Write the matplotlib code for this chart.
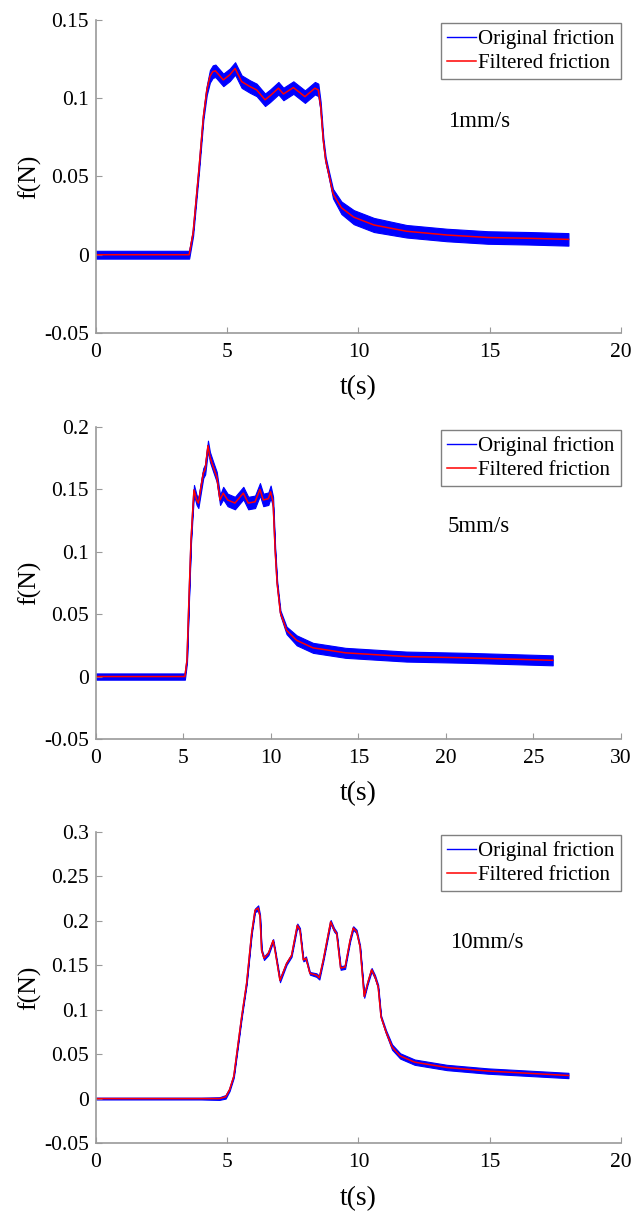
import matplotlib
matplotlib.use('Agg')
import matplotlib.pyplot as plt
import numpy as np
from matplotlib.ticker import FuncFormatter

plt.rcParams['font.family'] = ['Liberation Serif', 'DejaVu Serif']

# 1 mm/s : time (s), filtered friction (N), half width of the raw noise band (N)
t1 = [0, 1, 2, 3, 3.55, 3.7, 3.93, 4.09, 4.22, 4.34, 4.45, 4.55, 4.85, 5.1, 5.3, 5.55,
      5.87, 6.12, 6.44, 6.63, 6.95, 7.14, 7.52, 7.96, 8.34, 8.47, 8.56, 8.66, 8.75, 8.85,
      9.03, 9.35, 9.82, 10.59, 11.83, 13.37, 14.93, 16.5, 18.0]
f1 = [0, 0, 0, 0, 0, 0.014, 0.056, 0.088, 0.105, 0.114, 0.117, 0.1175, 0.1117, 0.115,
      0.119, 0.1106, 0.1074, 0.1053, 0.099, 0.1015, 0.1064, 0.1027, 0.1068, 0.101, 0.1064,
      0.1053, 0.0946, 0.073, 0.0605, 0.053, 0.039, 0.030, 0.024, 0.019, 0.015, 0.0126,
      0.011, 0.0105, 0.0098]
w1 = [0.0025, 0.0025, 0.0025, 0.0025, 0.0025, 0.002, 0.002, 0.002, 0.003, 0.004, 0.004,
      0.004, 0.004, 0.004, 0.004, 0.004, 0.004, 0.004, 0.004, 0.004, 0.004, 0.004, 0.004,
      0.004, 0.004, 0.004, 0.003, 0.002, 0.002, 0.002, 0.003, 0.004, 0.0045, 0.0045, 0.004,
      0.004, 0.004, 0.004, 0.004]

# 5 mm/s
t2 = [0, 2, 4, 5.08, 5.2, 5.31, 5.43, 5.54, 5.6, 5.75, 5.85, 6.13, 6.24, 6.4, 6.51, 6.7,
      6.9, 7.09, 7.27, 7.52, 7.94, 8.42, 8.7, 9.09, 9.37, 9.56, 9.85, 9.98, 10.12, 10.24,
      10.35, 10.54, 10.89, 11.47, 12.4, 14.26, 17.74, 21.2, 26.1]
f2 = [0, 0, 0, 0, 0.013, 0.061, 0.109, 0.136, 0.1495, 0.1415, 0.139, 0.163, 0.166, 0.185,
      0.176, 0.168, 0.160, 0.1415, 0.147, 0.1415, 0.139, 0.147, 0.139, 0.140, 0.150, 0.1415,
      0.1425, 0.148, 0.140, 0.101, 0.075, 0.051, 0.037, 0.029, 0.023, 0.019, 0.016, 0.015,
      0.013]
w2 = [0.0025, 0.0025, 0.0025, 0.0025, 0.002, 0.002, 0.002, 0.003, 0.004, 0.004, 0.004,
      0.004, 0.004, 0.004, 0.004, 0.004, 0.004, 0.004, 0.005, 0.005, 0.005, 0.005, 0.005,
      0.005, 0.005, 0.005, 0.005, 0.005, 0.004, 0.002, 0.002, 0.002, 0.003, 0.004, 0.004,
      0.004, 0.004, 0.004, 0.004]

# 10 mm/s
t3 = [0, 2, 4, 4.7, 4.94, 5.09, 5.25, 5.55, 5.74, 5.93, 6.06, 6.18, 6.25, 6.31, 6.4, 6.57,
      6.75, 6.82, 7.01, 7.26, 7.45, 7.67, 7.77, 7.9, 8.0, 8.15, 8.4, 8.51, 8.66, 8.94, 9.07,
      9.17, 9.32, 9.49, 9.68, 9.8, 9.93, 10.06, 10.22, 10.35, 10.5, 10.63, 10.75, 10.86,
      11.05, 11.28, 11.59, 12.14, 13.37, 14.93, 16.47, 18.0]
f3 = [0, 0, 0, 0, 0.002, 0.01, 0.025, 0.092, 0.130, 0.186, 0.212, 0.2145, 0.205, 0.167,
      0.158, 0.1635, 0.178, 0.167, 0.133, 0.152, 0.161, 0.195, 0.19, 0.156, 0.158, 0.141,
      0.139, 0.136, 0.156, 0.199, 0.19, 0.186, 0.147, 0.148, 0.178, 0.192, 0.188, 0.171,
      0.115, 0.130, 0.145, 0.137, 0.126, 0.092, 0.075, 0.058, 0.048, 0.041, 0.035, 0.031,
      0.0285, 0.026]
w3 = [0.001, 0.001, 0.001, 0.0015, 0.002, 0.0015, 0.0015, 0.0015, 0.0015, 0.0015, 0.002,
      0.003, 0.002, 0.0015, 0.002, 0.002, 0.0015, 0.0015, 0.002, 0.0015, 0.0015, 0.002,
      0.002, 0.0015, 0.002, 0.0015, 0.002, 0.002, 0.0015, 0.002, 0.002, 0.0015, 0.002,
      0.002, 0.0015, 0.002, 0.002, 0.0015, 0.0015, 0.0015, 0.002, 0.002, 0.002, 0.0015,
      0.002, 0.003, 0.003, 0.003, 0.003, 0.003, 0.003, 0.003]

panels = [
    dict(t=t1, f=f1, w=w1, xlim=(0, 20), ylim=(-0.05, 0.15), ystep=0.05, xstep=5,
         label='1mm/s', lpos=(13.4, 0.085), bottom=0.7264, height=0.2572),
    dict(t=t2, f=f2, w=w2, xlim=(0, 30), ylim=(-0.05, 0.2), ystep=0.05, xstep=5,
         label='5mm/s', lpos=(20.1, 0.12), bottom=0.3928, height=0.2564),
    dict(t=t3, f=f3, w=w3, xlim=(0, 20), ylim=(-0.05, 0.3), ystep=0.05, xstep=5,
         label='10mm/s', lpos=(13.5, 0.176), bottom=0.0608, height=0.2555),
]

fig = plt.figure(figsize=(6.34, 12.17), dpi=100)

for p in panels:
    ax = fig.add_axes([0.1514, p['bottom'], 0.828, p['height']])
    t = np.array(p['t'])
    f = np.array(p['f'])
    w = np.array(p['w'])
    ax.plot(t, f, color='blue', lw=1, label='Original friction')
    ax.fill_between(t, f - w, f + w, color='blue', lw=0.8, edgecolor='blue')
    ax.plot(t, f, color='red', lw=1.1, label='Filtered friction')

    ax.set_xlim(p['xlim'])
    ax.set_ylim(p['ylim'])
    ax.set_xticks(np.arange(p['xlim'][0], p['xlim'][1] + 0.01, p['xstep']))
    ax.set_yticks(np.arange(p['ylim'][0], p['ylim'][1] + 1e-6, p['ystep']))
    ax.yaxis.set_major_formatter(FuncFormatter(lambda v, pos: '%g' % round(v, 3)))
    ax.xaxis.set_major_formatter(FuncFormatter(lambda v, pos: '%g' % v))

    for s in ['top', 'right']:
        ax.spines[s].set_visible(False)
    for s in ['left', 'bottom']:
        ax.spines[s].set_color('#9a9a9a')
        ax.spines[s].set_linewidth(1.2)
    ax.tick_params(direction='in', length=4, color='#9a9a9a', labelsize=15.5)
    ax.tick_params(axis='x', pad=7)
    ax.tick_params(axis='y', pad=5)

    ax.set_xlabel('t(s)', fontsize=20, labelpad=10)
    ax.set_ylabel('f(N)', fontsize=18.5, labelpad=2)

    ax.text(p['lpos'][0], p['lpos'][1], p['label'], fontsize=16.5, va='center', ha='left')

    leg = ax.legend(loc='upper right', bbox_to_anchor=(1.0, 0.99), borderaxespad=0,
                    fontsize=15, handlelength=1.4, handletextpad=0.1, borderpad=0.3,
                    labelspacing=0.2, fancybox=False, framealpha=1)
    leg.get_frame().set_edgecolor('#808080')
    leg.get_frame().set_linewidth(1.0)

fig.savefig('out.png', dpi=100)
